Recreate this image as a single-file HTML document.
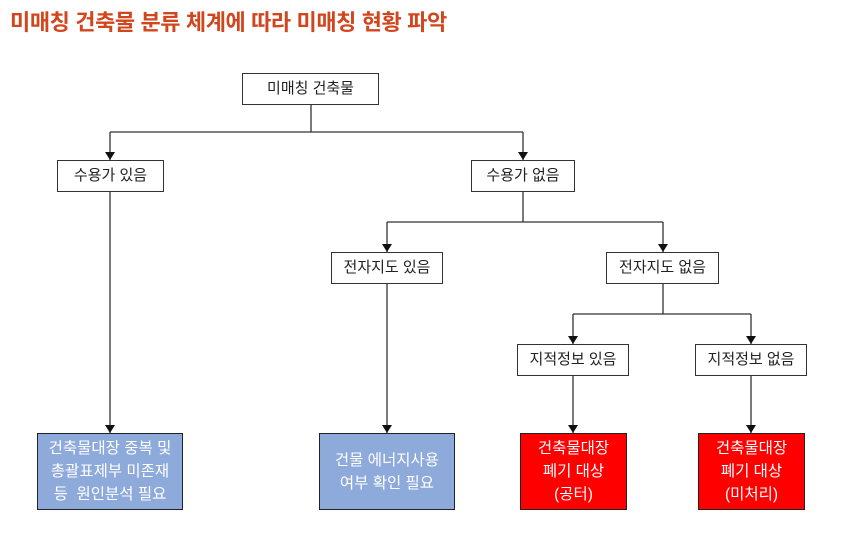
<!DOCTYPE html>
<html><head><meta charset="utf-8"><style>
body{margin:0;width:865px;height:550px;background:#fff;position:relative;overflow:hidden;font-family:"Liberation Sans","Noto Sans CJK KR",sans-serif}
.t{position:absolute;left:10px;top:5px;font-size:22px;font-weight:bold;color:#d2461e;letter-spacing:-0.4px}
.b{position:absolute;box-sizing:border-box;border:1.5px solid #333;background:#fff;display:flex;align-items:center;justify-content:center;text-align:center;font-size:15px;color:#222;line-height:22px}
.bl{background:#8eaadb;color:#fff;border-color:#222;font-size:15.5px;line-height:23px}
.rd{background:#ff0000;color:#fff;border-color:#222;font-size:15.5px;line-height:23px}
svg{position:absolute;left:0;top:0}
</style></head><body>
<div class="t">미매칭 건축물 분류 체계에 따라 미매칭 현황 파악</div>
<svg width="865" height="550">
<g stroke="#333" stroke-width="1.3" fill="none">
<path d="M311 105V132M110 132H523"/>
<path d="M110 132V160M523 132V160M110 192V433"/>
<path d="M523 192V222M387 222H663M387 222V252M663 222V252M387 284V433"/>
<path d="M663 284V314M573 314H751M573 314V344M751 314V344M573 376V433M751 376V433"/>
</g>
<g fill="#111">
<path d="M105 152h10l-5 8z"/><path d="M518 152h10l-5 8z"/>
<path d="M382 244h10l-5 8z"/><path d="M658 244h10l-5 8z"/>
<path d="M568 336h10l-5 8z"/><path d="M746 336h10l-5 8z"/>
<path d="M105 425h10l-5 8z"/><path d="M382 425h10l-5 8z"/>
<path d="M568 425h10l-5 8z"/><path d="M746 425h10l-5 8z"/>
</g></svg>
<div class="b" style="left:242px;top:73px;width:137px;height:32px">미매칭 건축물</div>
<div class="b" style="left:57px;top:160px;width:107px;height:32px">수용가 있음</div>
<div class="b" style="left:471px;top:160px;width:104px;height:32px">수용가 없음</div>
<div class="b" style="left:331px;top:252px;width:112px;height:32px">전자지도 있음</div>
<div class="b" style="left:606px;top:252px;width:113px;height:32px">전자지도 없음</div>
<div class="b" style="left:517px;top:344px;width:112px;height:32px">지적정보 있음</div>
<div class="b" style="left:695px;top:344px;width:112px;height:32px">지적정보 없음</div>
<div class="b bl" style="left:37px;top:433px;width:146px;height:77px">건축물대장 중복 및<br>총괄표제부 미존재<br>등&nbsp; 원인분석 필요</div>
<div class="b bl" style="left:319px;top:433px;width:136px;height:77px">건물 에너지사용<br>여부 확인 필요</div>
<div class="b rd" style="left:520px;top:433px;width:107px;height:77px">건축물대장<br>폐기 대상<br>(공터)</div>
<div class="b rd" style="left:698px;top:433px;width:107px;height:77px">건축물대장<br>폐기 대상<br>(미처리)</div>
</body></html>
